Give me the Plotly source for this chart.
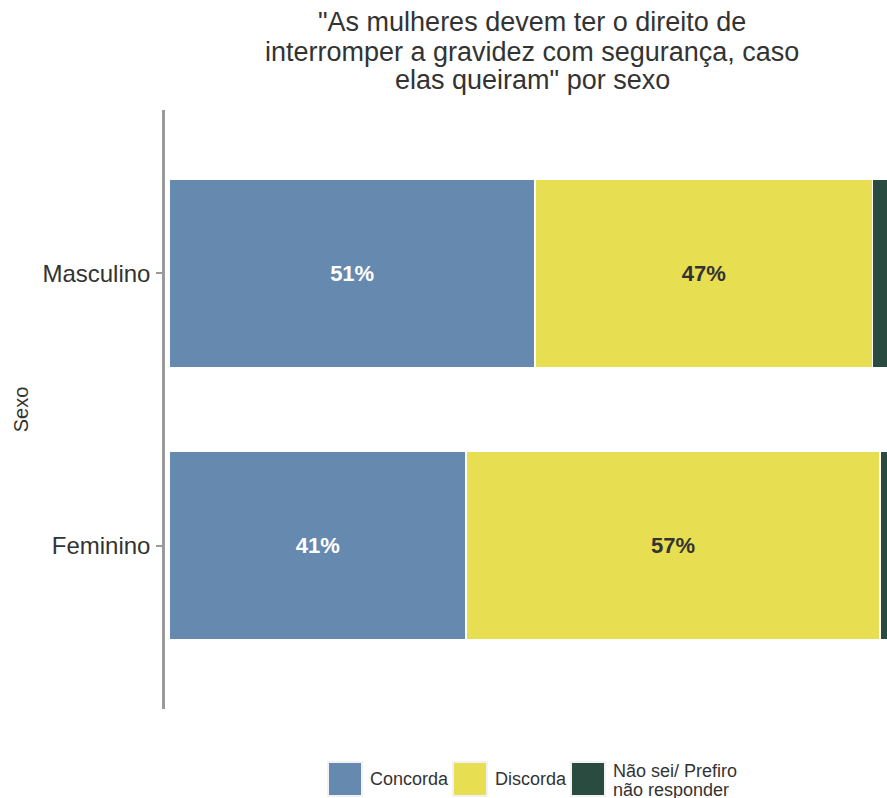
import plotly.graph_objects as go

# ---- data ----
categories = ["Feminino", "Masculino"]
series_names = ["Concorda", "Discorda", "Não sei/ Prefiro não responder"]
concorda = [41.1, 50.6]
discorda = [57.3, 46.8]
nao_sei = [1.6, 2.6]
title_lines = ['"As mulheres devem ter o direito de',
               'interromper a gravidez com segurança, caso',
               'elas queiram" por sexo']
legend_labels = ["Concorda", "Discorda", ["Não sei/ Prefiro", "não responder"]]

colors = ["#6689B0", "#E8DE52", "#2A4B3F"]
label_colors = ["#FFFFFF", "#333333", "#FFFFFF"]

W, H = 887, 798
L, R, T, B = 165, 0, 110, 89
PW, PH = W - L - R, H - T - B
FONT = "Liberation Sans, Arial, sans-serif"


def px_x(x):  # x in window pixels -> paper
    return (x - L) / PW


def px_y(y):  # y in window pixels -> paper
    return (H - B - y) / PH


fig = go.Figure()
for name, vals, col, lcol in zip(series_names, [concorda, discorda, nao_sei], colors, label_colors):
    texts = [f"{round(v)}%" if v >= 5 else "" for v in vals]
    fig.add_trace(go.Bar(
        y=categories, x=vals, orientation="h", name=name,
        marker=dict(color=col, line=dict(color="white", width=1.5)),
        text=texts, textposition="inside", insidetextanchor="middle",
        textfont=dict(family=FONT, size=22, color=lcol, weight="bold"),
        showlegend=False, hoverinfo="skip",
    ))

fig.update_layout(
    width=W, height=H, barmode="stack", bargap=0.31,
    margin=dict(l=L, r=R, t=T, b=B, pad=0),
    paper_bgcolor="white", plot_bgcolor="white",
    font=dict(family=FONT, color="#333333"),
)
fig.update_xaxes(range=[-0.62, 99.38], showgrid=False, zeroline=False,
                 showticklabels=False, showline=False, ticks="")
fig.update_yaxes(range=[-0.6, 1.6], showgrid=False, zeroline=False,
                 showline=True, linecolor="#9A9A9A", linewidth=2.5,
                 ticks="outside", ticklen=6, tickcolor="#9A9A9A", tickwidth=2,
                 ticklabelstandoff=1,
                 tickfont=dict(family=FONT, size=24, color="#333333"),
                 title=dict(text="Sexo", font=dict(family=FONT, size=20, color="#333333"),
                            standoff=9))

# title as three centered lines
title_y = [22, 52, 80]
for txt, yy in zip(title_lines, title_y):
    fig.add_annotation(text=txt, xref="paper", yref="paper", x=px_x(532), y=px_y(yy),
                       xanchor="center", yanchor="middle", showarrow=False,
                       font=dict(family=FONT, size=27, color="#333333"))

# custom legend
key_x = [329, 454, 572]
key_top, key_bot = 763, 795
text_x = [368, 493, 611]
for i, (kx, lab) in enumerate(zip(key_x, legend_labels)):
    fig.add_shape(type="rect", xref="paper", yref="paper",
                  x0=px_x(kx - 2), x1=px_x(kx + 34), y0=px_y(key_bot + 2), y1=px_y(key_top - 2),
                  fillcolor="#F2F2F2", line=dict(width=0), layer="below")
    fig.add_shape(type="rect", xref="paper", yref="paper",
                  x0=px_x(kx), x1=px_x(kx + 32), y0=px_y(key_bot), y1=px_y(key_top),
                  fillcolor=colors[i], line=dict(width=0))
    if isinstance(lab, list):
        for j, part in enumerate(lab):
            fig.add_annotation(text=part, xref="paper", yref="paper",
                               x=px_x(text_x[i]), y=px_y(771 + 19 * j),
                               xanchor="left", yanchor="middle", showarrow=False,
                               font=dict(family=FONT, size=18, color="#333333"))
    else:
        fig.add_annotation(text=lab, xref="paper", yref="paper",
                           x=px_x(text_x[i]), y=px_y(779),
                           xanchor="left", yanchor="middle", showarrow=False,
                           font=dict(family=FONT, size=18, color="#333333"))

fig.write_html("out.html", config={"displayModeBar": False},
               post_script="document.body.style.margin='0';document.body.style.overflow='hidden';")
